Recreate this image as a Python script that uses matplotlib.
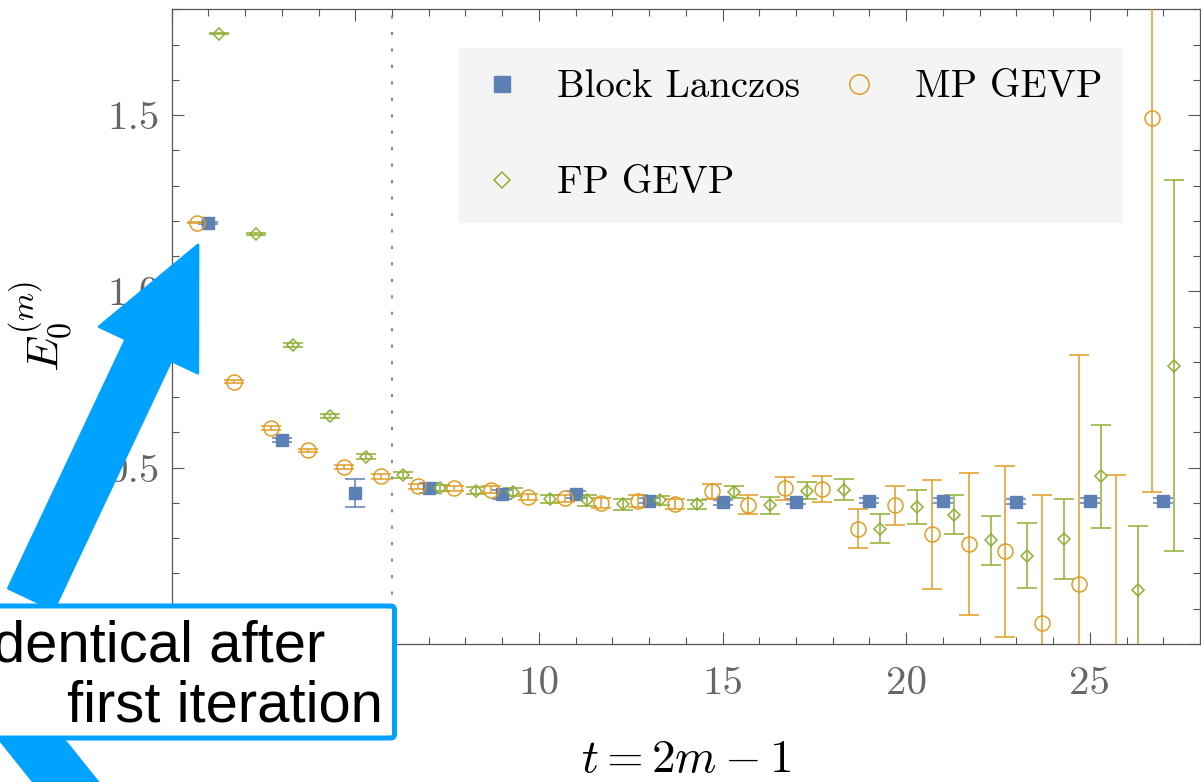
import matplotlib
matplotlib.use("Agg")
import matplotlib.pyplot as plt
import matplotlib.transforms as mtransforms
from matplotlib.patches import FancyArrow, FancyBboxPatch
from matplotlib.lines import Line2D
from matplotlib.ticker import MultipleLocator, FuncFormatter

#----------# données #----------#

t_lanczos = [1, 3, 5, 7, 9, 11, 13, 15, 17, 19, 21, 23, 25, 27]
E_lanczos = [1.194, 0.579, 0.429, 0.442, 0.424, 0.424, 0.406, 0.402, 0.404, 0.406, 0.406, 0.404, 0.406, 0.406]
err_lanczos = [0.004, 0.006, 0.040, 0.015, 0.012, 0.010, 0.007, 0.007, 0.007, 0.007, 0.007, 0.007, 0.007, 0.007]

t_mp = [0.7, 1.7, 2.7, 3.7, 4.7, 5.7, 6.7, 7.7, 8.7, 9.7, 10.7, 11.7, 12.7, 13.7,
        14.7, 15.7, 16.7, 17.7, 18.7, 19.7, 20.7, 21.7, 22.7, 23.7, 24.7, 25.7, 26.7]
E_mp = [1.195, 0.744, 0.612, 0.549, 0.502, 0.476, 0.447, 0.441, 0.438, 0.416, 0.413, 0.400, 0.405, 0.396,
        0.433, 0.395, 0.441, 0.439, 0.327, 0.393, 0.311, 0.283, 0.263, 0.060, 0.171, -0.150, 1.492]
err_mp = [0.002, 0.004, 0.006, 0.004, 0.007, 0.007, 0.007, 0.007, 0.009, 0.009, 0.009, 0.013, 0.017, 0.014,
          0.022, 0.027, 0.033, 0.037, 0.056, 0.056, 0.155, 0.202, 0.242, 0.362, 0.648, 0.630, 1.060]

t_fp = [1.3, 2.3, 3.3, 4.3, 5.3, 6.3, 7.3, 8.3, 9.3, 10.3, 11.3, 12.3, 13.3, 14.3,
        15.3, 16.3, 17.3, 18.3, 19.3, 20.3, 21.3, 22.3, 23.3, 24.3, 25.3, 26.3, 27.3]
E_fp = [1.731, 1.162, 0.848, 0.646, 0.531, 0.480, 0.442, 0.434, 0.431, 0.412, 0.407, 0.396, 0.407, 0.396,
        0.431, 0.393, 0.435, 0.437, 0.327, 0.389, 0.367, 0.294, 0.250, 0.298, 0.475, 0.153, 0.789]
err_fp = [0.002, 0.003, 0.006, 0.006, 0.007, 0.008, 0.009, 0.010, 0.010, 0.011, 0.015, 0.015, 0.012, 0.013,
          0.018, 0.023, 0.024, 0.030, 0.042, 0.049, 0.055, 0.070, 0.092, 0.113, 0.145, 0.181, 0.526]

labels = ["Block Lanczos", "MP GEVP", "FP GEVP"]

#----------# style #----------#

bleu = "#5E81B5"
orange = "#E19C24"
vert = "#8FB032"
cyan = "#00A2FF"
gris_cadre = "#555555"
gris_txt = "#666666"

plt.rcParams["font.family"] = "serif"
plt.rcParams["font.serif"] = ["cmr10"]
plt.rcParams["mathtext.fontset"] = "cm"
plt.rcParams["axes.unicode_minus"] = False

W, H = 1201, 782
fig = plt.figure(figsize=(W / 100, H / 100), dpi=100)
ax = fig.add_axes([0.1429, 0.1765, 0.8563, 0.8116])

# coordonnées en pixels (origine en haut à gauche) pour l'annotation
pix = mtransforms.Affine2D().scale(1 / W, -1 / H).translate(0, 1) + fig.transFigure

#----------# tracé #----------#

eb = dict(ls="none", elinewidth=1.1, capsize=7.2, capthick=1.1)
ax.errorbar(t_lanczos, E_lanczos, yerr=err_lanczos, color=bleu, marker="s", ms=9.2,
            mfc=bleu, mec=bleu, zorder=3, **eb)
ax.errorbar(t_mp, E_mp, yerr=err_mp, color=orange, marker="o", ms=10.8,
            mfc="none", mec=orange, mew=1.1, zorder=3, **eb)
ax.errorbar(t_fp, E_fp, yerr=err_fp, color=vert, marker="D", ms=6.2,
            mfc="none", mec=vert, mew=1.1, zorder=3, **eb)

ax.axvline(6, color="#888888", ls=(0, (1.5, 6.4)), lw=1.5, zorder=1)

ax.set_xlim(0, 28)
ax.set_ylim(0, 1.8)
ax.xaxis.set_major_locator(MultipleLocator(5))
ax.xaxis.set_minor_locator(MultipleLocator(1))
ax.yaxis.set_major_locator(MultipleLocator(0.5))
ax.yaxis.set_minor_locator(MultipleLocator(0.1))
# les étiquettes 0, 5 et 0.0 sont sous l'encadré : on ne les écrit pas
ax.xaxis.set_major_formatter(FuncFormatter(lambda v, p: "%d" % v if v > 6 else ""))
ax.yaxis.set_major_formatter(FuncFormatter(lambda v, p: "%.1f" % v if v > 0.1 else ""))

ax.tick_params(which="both", direction="in", top=True, right=True, color=gris_cadre,
               width=0.8, labelcolor=gris_txt, labelsize=29.5)
ax.tick_params(which="major", length=8.6)
ax.tick_params(which="minor", length=5)
ax.tick_params(axis="x", pad=16)
ax.tick_params(axis="y", pad=8.4)
for sp in ax.spines.values():
    sp.set_color(gris_cadre)
    sp.set_linewidth(0.9)

ax.set_xlabel(r"$t=2m-1$", fontsize=34, labelpad=27)
ax.set_ylabel(r"$E_0^{(m)}$", fontsize=33, labelpad=24)

handles = [
    Line2D([], [], ls="none", marker="s", ms=11.5, color=bleu),
    Line2D([], [], ls="none", marker="D", ms=8, mfc="none", mec=vert, mew=1.1),
    Line2D([], [], ls="none", marker="o", ms=14, mfc="none", mec=orange, mew=1.1),
]
leg = ax.legend(handles, [labels[0], labels[2], labels[1]], ncol=2, loc="upper left",
                bbox_to_anchor=(0.2795, 0.939), fontsize=28, labelspacing=1.55,
                borderpad=0.55, handlelength=1.1, handletextpad=0.88, columnspacing=0.95,
                borderaxespad=0, frameon=True, fancybox=False, facecolor="#F4F4F4",
                edgecolor="none", framealpha=1)

#----------# annotation #----------#

fleche_haut = FancyArrow(31, 599, 167, -354, width=50, head_width=109, head_length=116,
                         length_includes_head=True, transform=pix, fc=cyan, ec=cyan,
                         lw=2, joinstyle="round", zorder=5)
fleche_bas = FancyArrow(-8, 690, 250, 312, width=50, head_width=109, head_length=116,
                        length_includes_head=True, transform=pix, fc=cyan, ec=cyan,
                        lw=2, joinstyle="round", zorder=5)
boite = FancyBboxPatch((-30, 606), 424.5, 132, boxstyle="round,pad=0,rounding_size=4",
                       transform=pix, fc="white", ec=cyan, lw=3.6, zorder=6)
for p in (fleche_haut, fleche_bas, boite):
    fig.add_artist(p)

police = ["Liberation Sans", "DejaVu Sans"]
fig.text(325, 661.7, "identical after", transform=pix, ha="right", va="baseline",
         fontsize=41.8, family=police, color="black", zorder=7)
fig.text(383, 721.7, "first iteration", transform=pix, ha="right", va="baseline",
         fontsize=41.8, family=police, color="black", zorder=7)

fig.savefig("out.png", dpi=100)
